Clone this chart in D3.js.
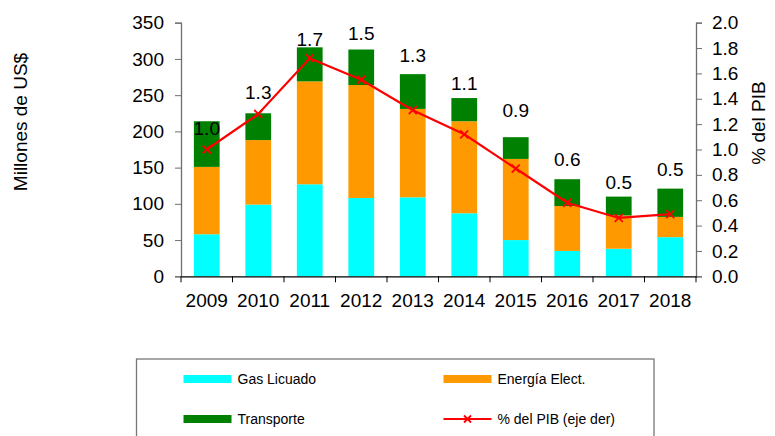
<!DOCTYPE html>
<html>
<head>
<meta charset="utf-8">
<script src="https://cdn.jsdelivr.net/npm/d3@7"></script>
<style>
  html, body { margin: 0; padding: 0; background: #fff; }
  svg { display: block; }
  text { font-family: "Liberation Sans", Arial, sans-serif; fill: #000; }
</style>
</head>
<body>
<svg id="chart" width="775" height="436"></svg>
<script>
// ---- data ----
const years = ["2009","2010","2011","2012","2013","2014","2015","2016","2017","2018"];
const gasLicuado = [58, 99, 127, 108, 109, 87, 50, 35, 38, 54];
const energiaElect = [93, 89, 142, 156, 122, 127, 112, 62, 46, 28];
const transporte = [63, 37, 47, 49, 48, 32, 30, 37, 26, 39];
const pctPIB = [1.00, 1.28, 1.72, 1.55, 1.31, 1.12, 0.85, 0.58, 0.46, 0.49];
const pctLabels = ["1.0","1.3","1.7","1.5","1.3","1.1","0.9","0.6","0.5","0.5"];
const labelLevels = [204, 254, 327, 335, 305, 266, 229, 161, 130, 148]; // label anchors (left-axis units)
const leftTicks = [0, 50, 100, 150, 200, 250, 300, 350];
const rightTicks = [0, 0.2, 0.4, 0.6, 0.8, 1.0, 1.2, 1.4, 1.6, 1.8, 2.0];
const seriesNames = ["Gas Licuado", "Energía Elect.", "Transporte", "% del PIB (eje der)"];

const colors = { gas: "#00FFFF", elec: "#FF9900", trans: "#008000", line: "#FF0000" };

const svg = d3.select("#chart");
svg.append("rect").attr("width", 775).attr("height", 436).attr("fill", "#fff");

const plot = { left: 181, right: 696, top: 22.7, bottom: 276.3 };

const x = d3.scaleBand().domain(years).range([plot.left, plot.right]).paddingInner(0.5).paddingOuter(0.25);
const xb = d3.scaleBand().domain(years).range([plot.left, plot.right]);
const yL = d3.scaleLinear().domain([0, 350]).range([plot.bottom, plot.top]);
const yR = d3.scaleLinear().domain([0, 2]).range([plot.bottom, plot.top]);

// stacked data
const rows = years.map((y, i) => ({ year: y, gas: gasLicuado[i], elec: energiaElect[i], trans: transporte[i] }));
const stack = d3.stack().keys(["gas", "elec", "trans"])(rows);

svg.append("g").selectAll("g").data(stack).join("g")
  .attr("fill", d => colors[d.key])
  .selectAll("rect").data(d => d).join("rect")
  .attr("x", d => x(d.data.year))
  .attr("width", x.bandwidth())
  .attr("y", d => yL(d[1]))
  .attr("height", d => yL(d[0]) - yL(d[1]));

// axes
const fs = "19px";
const gL = svg.append("g").attr("transform", `translate(${plot.left},0)`)
  .call(d3.axisLeft(yL).tickValues(leftTicks).tickSize(6).tickPadding(11).tickFormat(d3.format("d")));
const gR = svg.append("g").attr("transform", `translate(${plot.right},0)`)
  .call(d3.axisRight(yR).tickValues(rightTicks).tickSize(6).tickPadding(10).tickFormat(d3.format(".1f")));
[gL, gR].forEach(g => {
  g.select(".domain").attr("stroke", "#6e6e6e").attr("stroke-width", 1.3);
  g.selectAll(".tick line").attr("stroke", "#6e6e6e");
  g.selectAll("text").style("font-size", fs).attr("font-family", "Liberation Sans, Arial, sans-serif").attr("fill", "#000");
});

const gX = svg.append("g").attr("transform", `translate(0,${plot.bottom})`)
  .call(d3.axisBottom(xb).tickSize(0).tickPadding(17));
gX.select(".domain").attr("stroke", "#000").attr("stroke-width", 1.3);
gX.selectAll("text").style("font-size", fs).attr("font-family", "Liberation Sans, Arial, sans-serif").attr("fill", "#000");
// boundary ticks between categories
const bounds = years.map(y => xb(y)).concat([plot.right]);
gX.selectAll(".bt").data(bounds).join("line")
  .attr("x1", d => d).attr("x2", d => d).attr("y1", 0).attr("y2", 6)
  .attr("stroke", "#000").attr("stroke-width", 1);

// line series
const cx = i => xb(years[i]) + xb.bandwidth() / 2;
const line = d3.line().x((d, i) => cx(i)).y(d => yR(d));
svg.append("path").datum(pctPIB).attr("d", line)
  .attr("fill", "none").attr("stroke", colors.line).attr("stroke-width", 2.2);
const m = 4;
const markers = svg.append("g").selectAll("g").data(pctPIB).join("g")
  .attr("transform", (d, i) => `translate(${cx(i)},${yR(d)})`);
markers.append("path").attr("d", `M${-m},${-m}L${m},${m}M${-m},${m}L${m},${-m}`)
  .attr("stroke", colors.line).attr("stroke-width", 1.8);

// value labels
svg.append("g").selectAll("text").data(pctLabels).join("text")
  .attr("x", (d, i) => cx(i))
  .attr("y", (d, i) => yL(labelLevels[i]))
  .attr("dy", "0.36em")
  .attr("text-anchor", "middle")
  .style("font-size", fs)
  .text(d => d);

// axis titles
svg.append("text").attr("transform", "translate(26.5,122) rotate(-90)")
  .attr("text-anchor", "middle").style("font-size", fs).text("Millones de US$");
svg.append("text").attr("transform", "translate(765,123) rotate(-90)")
  .attr("text-anchor", "middle").style("font-size", fs).text("% del PIB");

// legend
const lg = svg.append("g");
lg.append("rect").attr("x", 136.5).attr("y", 359).attr("width", 517.5).attr("height", 120)
  .attr("fill", "#fff").attr("stroke", "#777").attr("stroke-width", 1.3);
const legendItems = [
  { name: seriesNames[0], color: colors.gas, x: 183.5, y: 379, type: "rect" },
  { name: seriesNames[1], color: colors.elec, x: 443.5, y: 379, type: "rect" },
  { name: seriesNames[2], color: colors.trans, x: 183.5, y: 419, type: "rect" },
  { name: seriesNames[3], color: colors.line, x: 443.5, y: 419, type: "line" }
];
legendItems.forEach(it => {
  if (it.type === "rect") {
    lg.append("rect").attr("x", it.x).attr("y", it.y - 4).attr("width", 48).attr("height", 8).attr("fill", it.color);
  } else {
    lg.append("line").attr("x1", it.x).attr("x2", it.x + 48).attr("y1", it.y).attr("y2", it.y)
      .attr("stroke", it.color).attr("stroke-width", 2.2);
    const c = it.x + 24, k = 3.5;
    lg.append("path").attr("d", `M${c - k},${it.y - k}L${c + k},${it.y + k}M${c - k},${it.y + k}L${c + k},${it.y - k}`)
      .attr("stroke", it.color).attr("stroke-width", 1.8);
  }
  lg.append("text").attr("x", it.x + 54).attr("y", it.y).attr("dy", "0.35em")
    .style("font-size", "14px").text(it.name);
});
</script>
</body>
</html>
